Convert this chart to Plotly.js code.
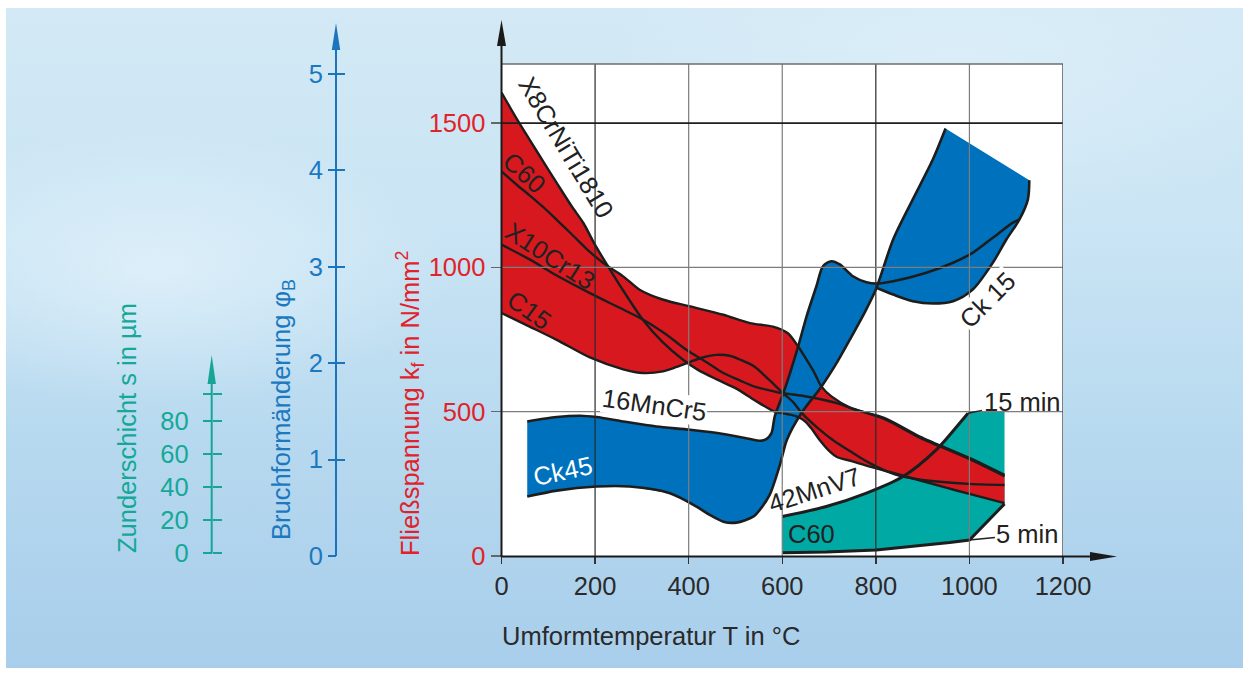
<!DOCTYPE html>
<html><head><meta charset="utf-8">
<script src="https://cdn.plot.ly/plotly-3.0.1.min.js"></script>
<style>
html,body{margin:0;padding:0;background:#fff;}
#wrap{position:relative;width:1249px;height:674px;overflow:hidden;background:#fff;}
#bg{position:absolute;left:6px;top:8px;width:1237px;height:660px;
background:
 radial-gradient(ellipse 420px 200px at 150px 260px, rgba(232,245,252,0.65), rgba(232,245,252,0) 70%),
 radial-gradient(ellipse 520px 220px at 950px 70px, rgba(228,243,251,0.55), rgba(228,243,251,0) 70%),
 linear-gradient(to bottom,#d3e9f5 0%,#c9e4f4 35%,#b7d9ef 65%,#a8ceeb 100%);}
#chart{position:absolute;left:0;top:0;width:1249px;height:674px;}
</style></head>
<body><div id="wrap"><div id="bg"></div><div id="chart"></div></div>
<script>
// ---------- axes ----------
const xTicks = [0, 200, 400, 600, 800, 1000, 1200];
const kfTicks = [0, 500, 1000, 1500];
const phiTicks = [0, 1, 2, 3, 4, 5];
const sTicks = [0, 20, 40, 60, 80];
const sMinorTicks = [96];

// ---------- Fließspannung kf (N/mm²) curves ----------
const x8X  = [0,30,60,90,118,150,175,200,228,260,302,345,388,420,460,502,541,584,610,630,648,664,680,698,716,750,787,830,870,950,1000,1075];
const x8Kf = [1606,1522,1443,1365,1293,1212,1154,1078,1003,920,819,740,680,645,612,580,540,500,492,484,468,438,402,368,344,328,310,291,273,237,215,183];

const c60X  = [0,30,60,90,118,150,190,217,228,260,296,346,403,474,531,580,612,634,652,669,684,705,748,819,894,1000,1075];
const c60Kf = [1333,1290,1250,1208,1165,1115,1052,1016,1003,969,922,888,865,836,807,795,772,726,680,634,587,553,512,478,414,340,281];

const x10X  = [0,60,118,189,250,303,350,395,440,473,510,541,570,602,640,680,720,748,819,894,1000,1075];
const x10Kf = [1079,1028,972,911,862,819,770,715,670,635,608,587,575,564,556,544,528,512,474,410,336,277];

const c15X  = [0,60,118,189,260,303,345,374,402,430,460,490,509,541,572,602,625,641,675,708,750,787,820,858,920,1000,1075];
const c15Kf = [842,795,749,688,647,634,640,655,672,688,697,693,681,656,610,564,530,497,445,402,358,322,296,275,260,250,246];

// red band outline (upper and lower edge of the kf scatter band)
const bandUpX  = [0,30,60,90,118,150,175,200,228,260,296,346,403,474,531,580,612,634,652,669,684,705,748,819,894,1000,1075];
const bandUpKf = [1606,1522,1443,1365,1293,1212,1154,1078,1003,969,922,888,865,836,807,795,772,726,680,634,587,553,512,478,414,340,281];
const bandLoX  = [0,60,118,189,260,303,345,374,398,420,460,502,541,584,610,630,648,664,680,698,716,750,787,830,870,950,1000,1075];
const bandLoKf = [842,795,749,688,647,634,640,655,670,645,612,580,540,500,492,484,468,438,402,368,344,328,310,291,273,237,215,183];

// ---------- Bruchformänderung phiB curves ----------
const b1X   = [55,118,168,203,260,331,403,474,531,552,566,577,584,605,634,652,673,687,705,723,751,780,801,837,908,965,1007,1050,1093,1107];
const b1Phi = [1.395,1.440,1.454,1.440,1.395,1.343,1.308,1.264,1.212,1.194,1.212,1.274,1.447,1.724,2.173,2.485,2.796,3.004,3.056,3.022,2.900,2.838,2.824,2.848,2.936,3.040,3.143,3.299,3.455,3.489];
const b2X   = [55,118,203,274,360,417,445,474,502,538,552,573,595,610,641,684,718,748,776,800,837,879,922,949];
const b2Phi = [0.616,0.678,0.720,0.720,0.651,0.512,0.426,0.356,0.346,0.408,0.478,0.633,0.945,1.205,1.482,1.758,2.015,2.274,2.523,2.762,3.281,3.697,4.112,4.431];
const b3X   = [801,837,879,922,965,1007,1050,1079,1107,1125,1128];
const b3Phi = [2.780,2.710,2.641,2.617,2.641,2.762,3.040,3.281,3.489,3.697,3.894];

// ---------- Zunderschicht s (µm), C60 ----------
const z15X = [600,694,780,858,929,979,997];
const z15S = [22.2,28.2,36.3,46.3,62.4,78.5,84.5];
const zEdgeX = [1000,1075];
const zEdgeS = [85.4,85.4];
const z5X = [1075,1000,958,908,858,801,694,600];
const z5S = [29.8,8.0,6.5,5.1,3.4,2.0,0.8,0.4];

// ---------- colours ----------
const RED = '#d7191f', BLUE = '#0071bc', TEAL = '#00a9a4';
const RED_T = '#e1222a', BLUE_T = '#1b79c0', TEAL_T = '#15a898';
const INK = '#1d1d1d';
const FONT = 'Liberation Sans, Arial, Helvetica, sans-serif';
const FS = 25.5;

// assemble polygons from the read curves
const redPolyX = bandUpX.concat(bandLoX.slice().reverse());
const redPolyY = bandUpKf.concat(bandLoKf.slice().reverse());
const jIdx = b1X.findIndex(v => v >= b3X[0]);
const bluePolyX = b2X.concat(b3X.slice().reverse(), b1X.slice(0, jIdx + 1).reverse());
const bluePolyY = b2Phi.concat(b3Phi.slice().reverse(), b1Phi.slice(0, jIdx + 1).reverse());
const tealPolyX = z15X.concat(zEdgeX, z5X);
const tealPolyY = z15S.concat(zEdgeS, z5S);

const fillTrace = (x, y, ax, col) => ({x, y, yaxis: ax, type: 'scatter', mode: 'lines', fill: 'toself',
  fillcolor: col, line: {width: 0, color: col}, hoverinfo: 'skip'});
const lineTrace = (x, y, ax, w, shape) => ({x, y, yaxis: ax, type: 'scatter', mode: 'lines',
  line: {color: INK, width: w, shape: shape || 'spline', smoothing: 0.8}, hoverinfo: 'skip'});

const traces = [
  fillTrace(tealPolyX, tealPolyY, 'y2', TEAL),
  fillTrace(redPolyX, redPolyY, 'y3', RED),
  fillTrace(bluePolyX, bluePolyY, 'y4', BLUE),
  lineTrace(x8X, x8Kf, 'y5', 2.4),
  lineTrace(c60X, c60Kf, 'y5', 2.4),
  lineTrace(x10X, x10Kf, 'y5', 2.4),
  lineTrace(c15X, c15Kf, 'y5', 2.4),
  lineTrace(b1X, b1Phi, 'y6', 2.6),
  lineTrace(b2X, b2Phi, 'y6', 2.6),
  lineTrace(b3X, b3Phi, 'y6', 2.6),
  lineTrace(z15X, z15S, 'y7', 3),
  lineTrace(z5X, z5S, 'y7', 3, 'linear')
];

// pixel helpers for decoration (axis arrows, titles)
const L = 100, T = 64, W = 963, H = 492;
const px = v => (v - L) / W;
const py = v => (T + H - v) / H;
const xDom0 = px(501.5);
const posPhi = px(336), posS = px(211.7);

const shapes = [];
[200, 400, 600, 800, 1000].forEach(t => shapes.push({type: 'line', xref: 'x', yref: 'paper', x0: t, x1: t, y0: 0, y1: 1,
  layer: 'above', line: {color: (t === 200 || t === 800) ? '#2a2a2a' : '#7d7d7d', width: 1.2}}));
[500, 1000, 1500].forEach(t => shapes.push({type: 'line', xref: 'x', yref: 'y', x0: 0, x1: 1200, y0: t, y1: t,
  layer: 'above', line: {color: t === 1500 ? '#1e1e1e' : '#7d7d7d', width: t === 1500 ? 1.8 : 1.2}}));
shapes.push({type: 'line', xref: 'x', yref: 'paper', x0: 0, x1: 1200, y0: 1, y1: 1, layer: 'above', line: {color: '#6e6e6e', width: 1.5}});
shapes.push({type: 'line', xref: 'x', yref: 'paper', x0: 1200, x1: 1200, y0: 0, y1: 1, layer: 'above', line: {color: '#555', width: 1.5}});
function axisLine(xp, y0p, y1p, col) {
  shapes.push({type: 'line', xref: 'paper', yref: 'paper', x0: px(xp), x1: px(xp), y0: py(y0p), y1: py(y1p), layer: 'above', line: {color: col, width: 2}});
}
function arrowUp(xp, tip, len, half, col) {
  shapes.push({type: 'path', xref: 'paper', yref: 'paper', layer: 'above', fillcolor: col, line: {width: 0},
    path: `M ${px(xp)} ${py(tip)} L ${px(xp - half)} ${py(tip + len)} L ${px(xp + half)} ${py(tip + len)} Z`});
}
axisLine(501.5, 557, 40, '#1a1a1a'); arrowUp(501.5, 20, 26, 4.5, '#1a1a1a');
axisLine(336, 556, 45, '#1a75bc'); arrowUp(336, 23, 27, 4.2, '#1a75bc');
axisLine(211.7, 553.3, 380, '#16a596'); arrowUp(211.7, 355, 29, 4.2, '#16a596');
shapes.push({type: 'line', xref: 'paper', yref: 'paper', x0: px(501.5), x1: px(1095), y0: py(556.5), y1: py(556.5), layer: 'above', line: {color: '#1a1a1a', width: 2}});
shapes.push({type: 'path', xref: 'paper', yref: 'paper', layer: 'above', fillcolor: '#1a1a1a', line: {width: 0},
  path: `M ${px(1117)} ${py(556.5)} L ${px(1090)} ${py(552)} L ${px(1090)} ${py(561)} Z`});

const lab = (text, x, y, ang, opt) => Object.assign({text, x, y, xref: 'x', yref: 'y', textangle: ang, showarrow: false,
  font: {family: FONT, size: FS, color: '#222'}, xanchor: 'center', yanchor: 'middle', borderpad: 0}, opt || {});
const annotations = [
  lab('X8CrNiTi1810', 138, 1418, 59),
  lab('C60', 50, 1328, 42),
  lab('X10Cr13', 104, 1040, 33),
  lab('C15', 59, 853, 36),
  lab('16MnCr5', 328, 523, 8, {bgcolor: '#fff'}),
  lab('Ck45', 131, 295, -12, {font: {family: FONT, size: FS, color: '#fff'}}),
  lab('42MnV7', 668, 228, -18),
  lab('C60', 663, 76, 0),
  lab('Ck 15', 1038, 888, -45, {bgcolor: '#fff'}),
  {text: '15 min', xref: 'x', yref: 'y2', x: 997, y: 84.5, ax: 54, ay: -11, showarrow: true, arrowhead: 0, arrowwidth: 1.5,
    arrowcolor: '#222', standoff: 0, font: {family: FONT, size: FS, color: '#222'}},
  {text: '5 min', xref: 'x', yref: 'y2', x: 1000, y: 8.0, ax: 58, ay: -6, showarrow: true, arrowhead: 0, arrowwidth: 1.5,
    arrowcolor: '#222', standoff: 0, font: {family: FONT, size: FS, color: '#222'}},
  {text: 'Umformtemperatur T in °C', xref: 'paper', yref: 'paper', x: px(500), y: py(636), xanchor: 'left', yanchor: 'middle',
    showarrow: false, font: {family: FONT, size: FS, color: '#2a2a2a'}},
  {text: 'Fließspannung k<sub>f</sub> in N/mm<sup>2</sup>', xref: 'paper', yref: 'paper', x: px(410), y: py(403), textangle: -90,
    xanchor: 'center', yanchor: 'middle', showarrow: false, font: {family: FONT, size: FS, color: RED_T}},
  {text: 'Bruchformänderung φ<sub>B</sub>', xref: 'paper', yref: 'paper', x: px(283), y: py(410), textangle: -90,
    xanchor: 'center', yanchor: 'middle', showarrow: false, font: {family: FONT, size: FS, color: BLUE_T}},
  {text: 'Zunderschicht s in µm', xref: 'paper', yref: 'paper', x: px(127), y: py(428), textangle: -90,
    xanchor: 'center', yanchor: 'middle', showarrow: false, font: {family: FONT, size: FS, color: TEAL_T}}
];

const hidden = (range) => ({overlaying: 'y', range, visible: false, fixedrange: true});
const layout = {
  width: 1249, height: 674,
  margin: {l: L, r: 1249 - L - W, t: T, b: 674 - T - H, pad: 0},
  paper_bgcolor: 'rgba(0,0,0,0)', plot_bgcolor: '#ffffff',
  showlegend: false,
  font: {family: FONT, size: FS, color: '#2a2a2a'},
  xaxis: {domain: [xDom0, 1], range: [0, 1200], tickvals: xTicks, ticks: 'outside', ticklen: 7, tickwidth: 1.5, tickcolor: '#333',
    showgrid: false, zeroline: false, showline: false, tickfont: {size: FS, color: '#2a2a2a'}, fixedrange: true},
  yaxis: {range: [0, 1705], tickvals: kfTicks, ticks: 'outside', ticklen: 10, tickwidth: 1.5, tickcolor: '#666',
    showgrid: false, zeroline: false, showline: false, tickfont: {size: FS, color: RED_T}, fixedrange: true},
  yaxis2: {overlaying: 'y', anchor: 'free', position: posS, side: 'left', range: [-1.63, 295.2], tickvals: sTicks,
    ticks: 'outside', ticklen: 9, tickwidth: 2, tickcolor: '#16a596', ticklabelstandoff: 9,
    minor: {tickmode: 'array', tickvals: sMinorTicks, ticks: 'outside', ticklen: 9, tickwidth: 2, tickcolor: '#16a596', showgrid: false},
    showgrid: false, zeroline: false, showline: false, tickfont: {size: FS, color: TEAL_T}, fixedrange: true},
  yaxis3: hidden([0, 1705]),
  yaxis4: {overlaying: 'y', anchor: 'free', position: posPhi, side: 'left', range: [0, 5.1], tickvals: phiTicks,
    ticks: 'outside', ticklen: 8, tickwidth: 2, tickcolor: '#1a75bc',
    showgrid: false, zeroline: false, showline: false, tickfont: {size: FS, color: BLUE_T}, fixedrange: true},
  yaxis5: hidden([0, 1705]),
  yaxis6: {overlaying: 'y', anchor: 'free', position: posPhi, side: 'left', range: [0, 5.1], tickvals: phiTicks,
    ticks: 'inside', ticklen: 8, tickwidth: 2, tickcolor: '#1a75bc', showticklabels: false,
    showgrid: false, zeroline: false, showline: false, fixedrange: true},
  yaxis7: {overlaying: 'y', anchor: 'free', position: posS, side: 'left', range: [-1.63, 295.2], tickvals: sTicks,
    ticks: 'inside', ticklen: 9, tickwidth: 2, tickcolor: '#16a596', showticklabels: false,
    minor: {tickmode: 'array', tickvals: sMinorTicks, ticks: 'inside', ticklen: 9, tickwidth: 2, tickcolor: '#16a596', showgrid: false},
    showgrid: false, zeroline: false, showline: false, fixedrange: true},
  shapes, annotations
};
Plotly.newPlot('chart', traces, layout, {staticPlot: true, displayModeBar: false});
</script>
</body></html>
